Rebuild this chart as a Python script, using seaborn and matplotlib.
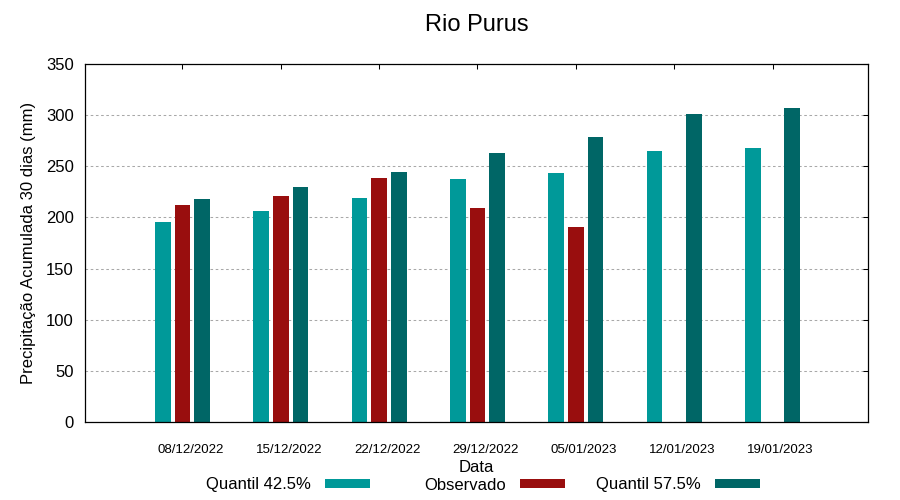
import numpy as np
import pandas as pd
import matplotlib
matplotlib.use("Agg")
import matplotlib.pyplot as plt
import matplotlib.transforms as mtransforms
from matplotlib.patches import Patch
import seaborn as sns

# dados
datas = ["08/12/2022", "15/12/2022", "22/12/2022", "29/12/2022",
         "05/01/2023", "12/01/2023", "19/01/2023"]
quantil_425 = [195.5, 206, 219, 237.5, 243.5, 265, 268]
observado = [212, 221, 238.5, 209, 190.5, np.nan, np.nan]
quantil_575 = [218, 230, 244.5, 263, 278.5, 301, 307]

series = ["Quantil 42.5%", "Observado", "Quantil 57.5%"]
cores = ["#009999", "#990e0e", "#006666"]

df = pd.DataFrame({"Data": datas, series[0]: quantil_425,
                   series[1]: observado, series[2]: quantil_575})
df_long = df.melt(id_vars="Data", var_name="serie", value_name="valor")

sns.set_style("white")
plt.rcParams["font.family"] = ["Liberation Sans", "DejaVu Sans"]
plt.rcParams["text.color"] = "black"
plt.rcParams["axes.labelcolor"] = "black"
plt.rcParams["xtick.color"] = "black"
plt.rcParams["ytick.color"] = "black"

fig = plt.figure(figsize=(9, 5), dpi=100)
ax = fig.add_axes([85 / 900, 78 / 500, 783 / 900, 358 / 500])

sns.barplot(data=df_long, x="Data", y="valor", hue="serie", hue_order=series,
            order=datas, palette=cores, width=0.6, gap=0.2, errorbar=None,
            saturation=1, legend=False, linewidth=0, ax=ax)

ax.set_xlim(-0.99, 6.97)
ax.set_ylim(0, 350)
ax.set_yticks(range(0, 351, 50))
ax.yaxis.grid(True, color="#a8a8a8", linestyle=(0, (2.5, 2.5)), linewidth=0.75)
ax.set_axisbelow(True)
for s in ax.spines.values():
    s.set_color("black")
    s.set_linewidth(0.9)

ax.tick_params(axis="both", direction="in", top=True, right=True,
               length=3.6, width=0.75, color="black")
ax.tick_params(axis="y", labelsize=12, pad=8)
ax.tick_params(axis="x", labelsize=9.5, pad=16)
desloc = mtransforms.ScaledTranslation(0.08, 0, fig.dpi_scale_trans)
for lbl in ax.get_xticklabels():
    lbl.set_transform(lbl.get_transform() + desloc)

ax.set_xlabel("Data", fontsize=12, labelpad=3)
ax.set_ylabel("Precipitação Acumulada 30 dias (mm)", fontsize=12, labelpad=7)
ax.set_title("Rio Purus", fontsize=17, pad=24)

# legenda estilo gnuplot: texto e depois a amostra de cor
for nome, cor, xr in zip(series, cores, [370, 565, 760]):
    leg = fig.legend(handles=[Patch(facecolor=cor, edgecolor="none")], labels=[nome],
                     loc="center right", bbox_to_anchor=(xr / 900, 1 - 485 / 500),
                     markerfirst=False, frameon=False, fontsize=12,
                     handlelength=2.7, handleheight=0.5, handletextpad=0.85,
                     borderpad=0, borderaxespad=0)

fig.savefig("out.png", dpi=100)
